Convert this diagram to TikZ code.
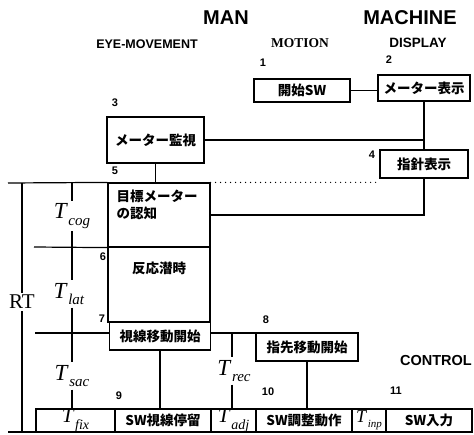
\documentclass[tikz,border=0pt]{standalone}
\usepackage{fontspec}
\newfontfamily\jp{Noto Sans CJK JP}
\newfontfamily\hel{Liberation Sans}
\newfontfamily\tim{Liberation Serif}
\newcommand{\tlab}[2][15]{\textit{T}\kern0.5pt\raisebox{-0.3em}{\fontsize{#1}{#1}\selectfont\textit{#2}}}
\begin{document}
\begin{tikzpicture}[x=1pt,y=-1pt,line width=1.2pt,
  box/.style={draw,rectangle,inner sep=0pt,font=\jp\bfseries\fontsize{13.5}{16}\selectfont},
  jtext/.style={inner sep=0pt,font=\jp\bfseries\fontsize{13.5}{17}\selectfont},
  cell/.style={draw,rectangle,inner sep=0pt,font=\tim\fontsize{21}{21}\selectfont},
  num/.style={inner sep=0pt,font=\hel\bfseries\fontsize{11}{11}\selectfont},
  tl/.style={inner sep=2pt,font=\tim\fontsize{23}{23}\selectfont},
  title/.style={inner sep=0pt,font=\hel\bfseries\fontsize{20}{20}\selectfont},
  sub/.style={inner sep=0pt,font=\hel\bfseries\fontsize{12.5}{12.5}\selectfont}]
\useasboundingbox (0,0) rectangle (474,434);

% titles
\node[title] (man) at (226,18) {MAN};
\node[title] (machine) at (410,18) {MACHINE};
\node[sub] (eye) at (147,44) {EYE-MOVEMENT};
\node[inner sep=0pt,font=\tim\bfseries\fontsize{13.5}{13.5}\selectfont] (motion) at (300,43) {MOTION};
\node[sub,font=\hel\bfseries\fontsize{13.5}{13.5}\selectfont] (display) at (418,43) {DISPLAY};
\node[sub,font=\hel\bfseries\fontsize{14.5}{14.5}\selectfont] (control) at (436,361) {CONTROL};

% boxes
\node[box,minimum width=96pt,minimum height=23pt] (b1) at (302,90.5) {開始SW};
\node[box,minimum width=92pt,minimum height=26pt] (b2) at (424,88) {メーター表示};
\node[box,minimum width=97pt,minimum height=46pt] (b3) at (155.5,140) {メーター監視};
\node[box,minimum width=88pt,minimum height=28pt] (b4) at (424,164) {指針表示};
\node[box,minimum width=102pt,minimum height=64pt] (b5) at (159,215) {};
\node[jtext,align=left,anchor=north west] (t5) at (116,189) {目標メーター\\の認知};
\node[box,minimum width=102pt,minimum height=75pt] (b6) at (159,284.5) {};
\node[jtext] (t6) at (159,268) {反応潜時};
\node[box,minimum width=101pt,minimum height=28pt] (b7) at (160,336) {視線移動開始};
\node[box,minimum width=102pt,minimum height=28pt] (b8) at (307,347) {指先移動開始};

% bottom row
\node[cell,minimum width=79pt,minimum height=23pt] (cfix) at (75.5,420.5) {\tlab[14]{fix}};
\node[box,minimum width=96pt,minimum height=23pt] (b9) at (163,420.5) {SW視線停留};
\node[cell,minimum width=45pt,minimum height=23pt] (cadj) at (233.5,420.5) {\tlab[14]{adj}};
\node[box,minimum width=96pt,minimum height=23pt] (b10) at (304,420.5) {SW調整動作};
\node[cell,minimum width=34pt,minimum height=23pt,font=\tim\fontsize{18}{18}\selectfont] (cinp) at (369,420.5) {\tlab[11]{inp}};
\node[box,minimum width=86pt,minimum height=23pt] (b11) at (429,420.5) {SW入力};

% numbers
\node[num] (n1) at (263,63) {1};
\node[num] (n2) at (389,60) {2};
\node[num] (n3) at (115,103) {3};
\node[num] (n4) at (372,155) {4};
\node[num] (n5) at (115,171) {5};
\node[num] (n6) at (103,257) {6};
\node[num] (n7) at (102,319) {7};
\node[num] (n8) at (266,320) {8};
\node[num] (n9) at (119,396) {9};
\node[num] (n10) at (268,392) {10};
\node[num] (n11) at (396,391) {11};

% connectors top
\draw (b1.east) -- (b1.east -| b2.west);
\draw (b2.south) -- (b4.north);
\draw (b3.east) -- (b3.east -| b2.south);
\draw (b3.south) -- (b3.south |- b5.north);
\draw (b4.south) |- (b5.east);
\draw[line width=1.4pt,line cap=round,dash pattern=on 0pt off 5pt] (b5.north east) -- (b5.north east -| b4.west);

% left grid
\coordinate (top0) at (8,183);
\coordinate (rt0) at (22,183);
\coordinate (h1) at (34,247);
\coordinate (h2) at (35,333);
\coordinate (tc0) at (72,183);
\coordinate (bl) at (8,432);
\draw (top0) -- (b5.north west);
\draw (h1) -- (b5.south west);
\draw (h2) -- (h2 -| b7.west);
\node[tl,font=\tim\fontsize{21}{21}\selectfont] (rt) at (22,302) {RT};
\draw (rt0) -- (rt.north);
\draw (rt.south) -- (rt.south |- bl);
\draw (bl) -- (bl -| b11.east);

\node[tl] (tcog) at (72,216) {\tlab{cog}};
\node[tl] (tlat) at (69,294) {\tlab{lat}};
\node[tl] (tsac) at (72,376) {\tlab{sac}};
\draw (tc0) -- (tc0 |- tcog.north);
\draw (tc0 |- tcog.south) -- (tc0 |- tlat.north);
\draw (tc0 |- tlat.south) -- (tc0 |- tsac.north);
\draw (tc0 |- tsac.south) -- (tc0 |- cfix.north);

% lower connectors
\draw (h2 -| b7.east) -- (h2 -| b8.west);
\coordinate (r0) at (232,333);
\node[tl] (trec) at (234,371) {\tlab{rec}};
\draw (r0) -- (r0 |- trec.north);
\draw (r0 |- trec.south) -- (r0 |- cadj.north);
\draw (b7.south) -- (b7.south |- b9.north);
\draw (b8.south) -- (b8.south |- b10.north);
\end{tikzpicture}
\end{document}
